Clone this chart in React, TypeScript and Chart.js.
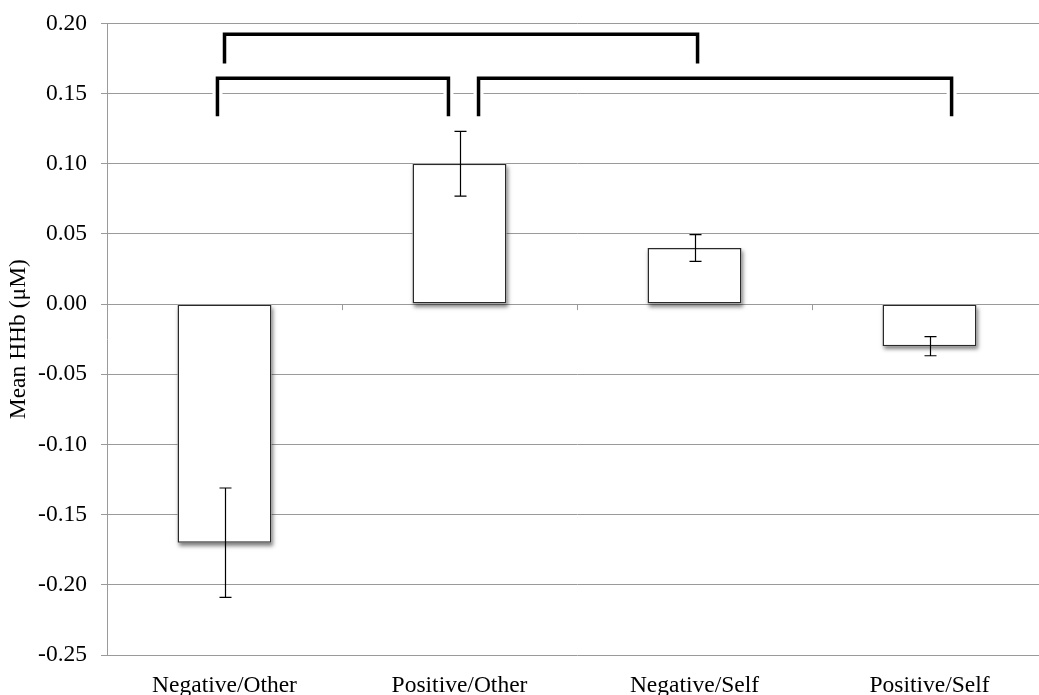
import React, { useEffect, useRef } from "react";
import { Chart, registerables } from "chart.js";

Chart.register(...registerables);

const categories = ["Negative/Other", "Positive/Other", "Negative/Self", "Positive/Self"];
const meanValues = [-0.17, 0.1, 0.04, -0.03];
const errorValues = [0.039, 0.023, 0.0095, 0.0068];
const yTickMin = -0.25;
const yTickMax = 0.2;
const yTickStep = 0.05;
const yTitle = "Mean HHb (\u03bcM)";

// significance brackets in data coordinates (category index, value)
const bracketFrom = [-0.03, 1.081, 0.0];
const bracketTo = [0.953, 3.094, 2.013];
const bracketTop = [0.161, 0.161, 0.1922];
const bracketBottom = [0.1338, 0.1338, 0.1715];

const FONT = "'Liberation Serif', 'Times New Roman', serif";

export default function App() {
  const ref = useRef<HTMLCanvasElement | null>(null);
  useEffect(() => {
    document.body.style.overflow = "hidden";
    const canvas = ref.current;
    if (!canvas) return;

    const overlay = {
      id: "overlay",
      beforeDatasetsDraw(chart: any) {
        const { ctx, chartArea, scales } = chart;
        const x = scales.x;
        const y = scales.y;
        const y0 = y.getPixelForValue(0);
        ctx.save();
        ctx.strokeStyle = "#9a9a9a";
        ctx.lineWidth = 1;
        ctx.beginPath();
        ctx.moveTo(chartArea.left, Math.round(y0) + 0.5);
        ctx.lineTo(chartArea.right, Math.round(y0) + 0.5);
        for (let i = 0; i < categories.length - 1; i++) {
          const xb = Math.round((x.getPixelForValue(i) + x.getPixelForValue(i + 1)) / 2) + 0.5;
          ctx.moveTo(xb, y0);
          ctx.lineTo(xb, y0 + 6);
        }
        ctx.stroke();
        ctx.restore();
        // bar shadows
        const meta = chart.getDatasetMeta(0);
        ctx.save();
        ctx.shadowColor = "rgba(0,0,0,0.5)";
        ctx.shadowBlur = 4;
        ctx.shadowOffsetX = 1;
        ctx.shadowOffsetY = 3;
        ctx.fillStyle = "#fff";
        for (const el of meta.data as any[]) {
          const top = Math.min(el.y, el.base);
          const h = Math.abs(el.y - el.base);
          ctx.fillRect(el.x - el.width / 2, top, el.width, h);
        }
        ctx.restore();
      },
      afterDatasetsDraw(chart: any) {
        const { ctx, scales } = chart;
        const x = scales.x;
        const y = scales.y;
        ctx.save();
        ctx.strokeStyle = "#000";
        ctx.lineWidth = 1.2;
        ctx.beginPath();
        for (let i = 0; i < meanValues.length; i++) {
          const cx = Math.round(x.getPixelForValue(i)) + 0.5;
          const hi = y.getPixelForValue(meanValues[i] + errorValues[i]);
          const lo = y.getPixelForValue(meanValues[i] - errorValues[i]);
          ctx.moveTo(cx, hi);
          ctx.lineTo(cx, lo);
          ctx.moveTo(cx - 6, hi);
          ctx.lineTo(cx + 6, hi);
          ctx.moveTo(cx - 6, lo);
          ctx.lineTo(cx + 6, lo);
        }
        ctx.stroke();
        // brackets
        const pos = (v: number) => x.left + ((v + 0.5) * (x.right - x.left)) / categories.length;
        for (let pass = 0; pass < 2; pass++) {
          ctx.strokeStyle = pass === 0 ? "#fff" : "#000";
          ctx.lineWidth = pass === 0 ? 10 : 3.5;
          ctx.lineJoin = "miter";
          ctx.lineCap = "butt";
          for (let i = 0; i < bracketFrom.length; i++) {
            const x1 = pos(bracketFrom[i]);
            const x2 = pos(bracketTo[i]);
            const yt = y.getPixelForValue(bracketTop[i]);
            const yb = y.getPixelForValue(bracketBottom[i]);
            ctx.beginPath();
            if (pass === 0) {
              ctx.moveTo(x1, yt + 4);
              ctx.lineTo(x1, yb);
              ctx.moveTo(x2, yt + 4);
              ctx.lineTo(x2, yb);
            } else {
              ctx.moveTo(x1, yb);
              ctx.lineTo(x1, yt);
              ctx.lineTo(x2, yt);
              ctx.lineTo(x2, yb);
            }
            ctx.stroke();
          }
        }
        ctx.restore();
      },
    };

    const chart = new Chart(canvas, {
      type: "bar",
      data: {
        labels: categories,
        datasets: [
          {
            data: meanValues,
            backgroundColor: "#ffffff",
            borderColor: "#2a2a2a",
            borderWidth: 1.5,
            borderSkipped: false,
            barPercentage: 0.4,
            categoryPercentage: 1,
          },
        ],
      },
      options: {
        animation: false,
        responsive: false,
        maintainAspectRatio: false,
        devicePixelRatio: 1,
        layout: { padding: { left: 0, right: 0, top: 23, bottom: 0 } },
        plugins: { legend: { display: false }, tooltip: { enabled: false } },
        scales: {
          x: {
            grid: { display: false },
            border: { display: false },
            ticks: {
              color: "#000",
              font: { family: FONT, size: 23.5 },
              padding: 9,
              maxRotation: 0,
            },
            afterFit(scale: any) {
              scale.height = 40;
            },
          },
          y: {
            min: yTickMin,
            max: yTickMax,
            grid: { color: "#9a9a9a", lineWidth: 1, tickLength: 6, drawTicks: true },
            border: { display: true, color: "#9a9a9a", width: 1 },
            ticks: {
              stepSize: yTickStep,
              color: "#000",
              font: { family: FONT, size: 23.5, lineHeight: 0.8 },
              padding: 14,
              callback: (v: any) => (Math.abs(Number(v)) < 1e-9 ? "0.00" : Number(v).toFixed(2)),
            },
            title: {
              display: true,
              text: yTitle,
              color: "#000",
              font: { family: FONT, size: 23.5, weight: "normal" },
              padding: { top: 5, bottom: 0 },
            },
            afterFit(scale: any) {
              scale.width = 107;
            },
          },
        },
      },
      plugins: [overlay],
    });
    return () => chart.destroy();
  }, []);

  return (
    <div style={{ position: "fixed", left: 0, top: 0, width: 1047, height: 695, background: "#fff" }}>
      <canvas ref={ref} width={1047} height={695} style={{ width: 1047, height: 695, display: "block" }} />
    </div>
  );
}
